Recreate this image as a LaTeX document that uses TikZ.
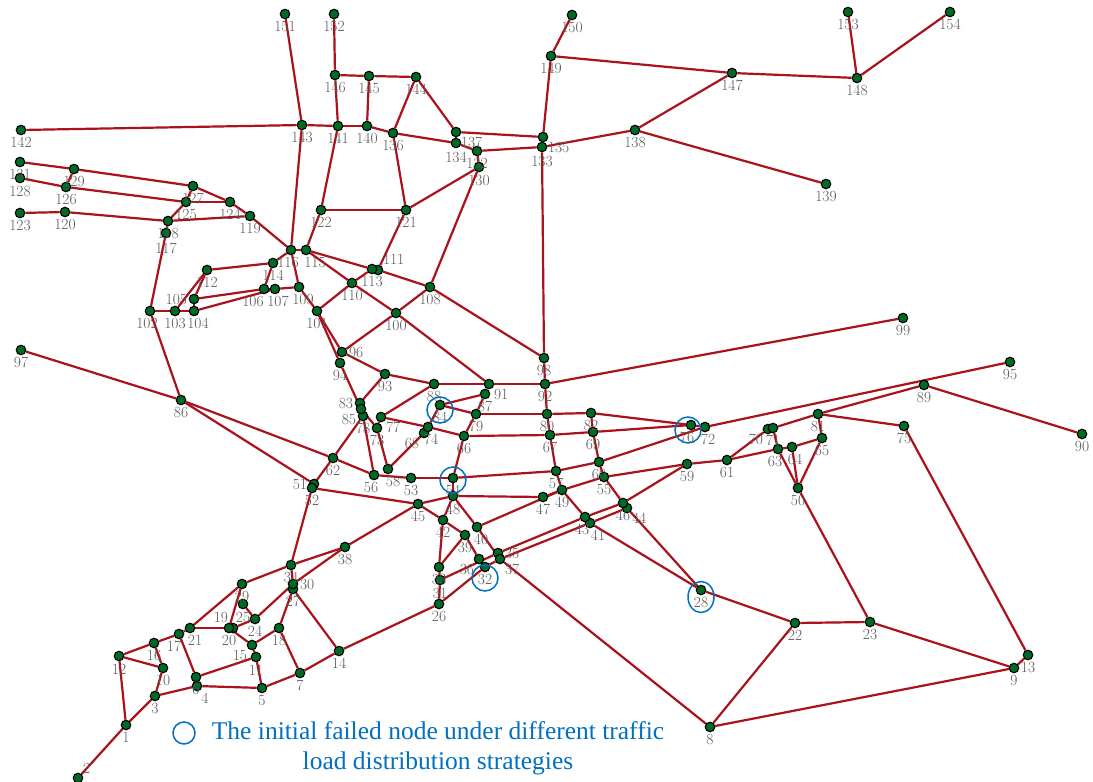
\documentclass[tikz,border=0pt]{standalone}
\usepackage{fontspec}
\newfontfamily\legendfont{Liberation Serif}
\usetikzlibrary{backgrounds,shapes.geometric}
\definecolor{edgered}{RGB}{170,18,28}
\definecolor{nodegreen}{RGB}{0,105,35}
\definecolor{labelgray}{RGB}{90,90,90}
\definecolor{ringblue}{RGB}{0,112,192}
% station with its number below
\newcommand\V[3]{\node[nd,label={[lbl]below:#1}] (v#1) at (#2,#3) {};}
% station with its number placed elsewhere
\newcommand\Vp[4]{\node[nd,label={[lbl]#4:#1}] (v#1) at (#2,#3) {};}
% station with its number below, nudged
\newcommand\Vs[4]{\node[nd,label={[lbl,#4]below:#1}] (v#1) at (#2,#3) {};}
\begin{document}
\begin{tikzpicture}[x=1pt,y=-1pt,label distance=1.5pt,
  nd/.style={circle,draw=black,fill=nodegreen,line width=1.1pt,minimum size=9.5pt,inner sep=0pt},
  lbl/.style={text=labelgray,font=\fontsize{15.5}{15.5}\selectfont,inner sep=0pt},
  edge/.style={draw=edgered,line width=2.2pt},
  ring/.style={circle,draw=ringblue,line width=1.5pt,minimum size=26pt,inner sep=0pt}]
\useasboundingbox (0,0) rectangle (1093,782);

% stations
\V{1}{126}{725}
\Vp{2}{78}{778}{above right}
\V{3}{155}{696}
\Vs{4}{197}{686}{xshift=8pt}
\V{5}{262}{688}
\V{6}{196}{677}
\V{7}{300}{673}
\V{8}{710}{727}
\V{9}{1014}{668}
\V{10}{163}{668}
\Vs{11}{256}{657}{yshift=-1pt}
\Vs{12}{119}{656}{yshift=-1pt}
\V{13}{1028}{655}
\V{14}{339}{651}
\Vp{15}{252}{645}{below left}
\V{16}{154}{643}
\Vs{17}{179}{634}{xshift=-5pt}
\V{18}{279}{628}
\Vp{19}{233}{628}{above left}
\V{20}{229}{628}
\Vs{21}{190}{628}{xshift=5pt}
\V{22}{795}{623}
\V{23}{870}{622}
\V{24}{255}{619}
\Vs{25}{243}{604}{yshift=-1pt}
\V{26}{439}{604}
\V{27}{293}{589}
\V{28}{701}{590}
\V{29}{242}{584}
\Vp{30}{293}{584}{right}
\Vs{31}{440}{580}{yshift=-1pt}
\V{32}{485}{567}
\V{33}{439}{567}
\V{34}{291}{565}
\Vp{35}{498}{553}{right}
\Vp{36}{479}{559}{below left}
\Vp{37}{500}{559}{below right}
\V{38}{345}{547}
\V{39}{465}{535}
\Vs{40}{477}{527}{xshift=4pt}
\Vs{41}{590}{523}{xshift=8pt}
\V{42}{443}{520}
\Vs{43}{585}{517}{xshift=-3pt}
\Vp{44}{627}{508}{below right}
\V{45}{418}{504}
\V{46}{623}{503}
\V{47}{543}{497}
\Vs{48}{453}{496}{yshift=-1pt}
\V{49}{562}{490}
\V{50}{798}{488}
\Vp{51}{314}{484}{left}
\V{52}{312}{488}
\V{53}{411}{478}
\V{54}{453}{478}
\V{55}{604}{477}
\Vs{56}{374}{475}{xshift=-3pt}
\V{57}{556}{471}
\Vs{58}{388}{469}{xshift=5pt}
\V{59}{687}{464}
\V{60}{599}{462}
\V{61}{727}{460}
\V{62}{333}{458}
\Vs{63}{778}{449}{xshift=-3pt}
\Vs{64}{792}{447}{xshift=3pt}
\V{65}{822}{438}
\V{66}{464}{436}
\V{67}{550}{435}
\Vp{68}{424}{433}{below left}
\V{69}{593}{432}
\Vp{70}{768}{429}{below left}
\V{71}{773}{428}
\Vs{72}{705}{427}{xshift=3pt}
\V{73}{377}{428}
\Vs{74}{428}{427}{xshift=3pt}
\V{75}{904}{426}
\Vs{76}{691}{425}{xshift=-4pt}
\Vp{77}{381}{417}{below right}
\V{78}{363}{416}
\V{79}{476}{414}
\V{80}{547}{414}
\V{81}{818}{414}
\V{82}{591}{413}
\Vp{83}{360}{403}{left}
\V{84}{440}{405}
\Vp{85}{361}{409}{below left}
\V{86}{181}{400}
\V{87}{485}{394}
\V{88}{434}{384}
\V{89}{924}{385}
\V{90}{1082}{434}
\Vp{91}{489}{384}{below right}
\V{92}{545}{384}
\V{93}{385}{374}
\V{94}{340}{363}
\Vp{96}{342}{352}{right}
\V{95}{1010}{362}
\V{97}{21}{350}
\V{98}{544}{358}
\V{99}{903}{318}
\V{100}{396}{313}
\V{101}{317}{311}
\Vs{102}{150}{311}{xshift=-3pt}
\V{103}{175}{311}
\Vs{104}{194}{311}{xshift=4pt}
\Vp{105}{194}{299}{left}
\Vs{106}{264}{289}{xshift=-11pt}
\Vs{107}{275}{289}{xshift=3pt}
\V{108}{430}{287}
\Vs{109}{299}{287}{xshift=4pt}
\V{110}{352}{283}
\Vp{111}{378}{270}{above right}
\V{112}{207}{270}
\V{113}{372}{269}
\V{114}{273}{263}
\Vs{115}{306}{250}{xshift=9pt}
\Vs{116}{291}{250}{xshift=-3pt}
\Vs{117}{166}{233}{yshift=-3pt}
\V{118}{168}{221}
\V{119}{250}{216}
\V{120}{65}{212}
\V{121}{406}{210}
\V{122}{321}{210}
\V{123}{20}{213}
\V{124}{230}{202}
\V{125}{186}{202}
\V{126}{66}{187}
\V{127}{193}{186}
\Vs{128}{20}{178}{yshift=-1pt}
\V{129}{74}{169}
\Vs{130}{479}{167}{yshift=-1pt}
\V{131}{20}{162}
\V{132}{477}{151}
\Vs{133}{542}{147}{yshift=-2.5pt}
\Vs{134}{456}{143}{yshift=-2.5pt}
\Vp{135}{543}{137}{below right}
\V{136}{393}{133}
\Vp{137}{456}{132}{below right}
\V{138}{635}{130}
\V{139}{826}{184}
\V{140}{367}{126}
\V{141}{338}{126}
\V{142}{21}{130}
\V{143}{302}{125}
\V{144}{416}{77}
\V{145}{369}{76}
\V{146}{335}{75}
\V{147}{732}{73}
\V{148}{857}{78}
\V{149}{551}{56}
\V{150}{572}{15}
\V{151}{285}{14}
\V{152}{334}{14}
\V{153}{848}{12}
\V{154}{950}{12}

% links, kept behind the stations
\begin{scope}[on background layer]
\fill[white] (0,0) rectangle (1093,782);
\foreach \a/\b in {151/143,152/146,146/141,146/145,145/144,145/140,144/136,144/137,
  142/143,143/141,141/140,140/136,136/134,137/134,137/135,134/132,132/133,132/130,
  135/133,135/149,149/150,149/147,147/148,148/153,148/154,147/138,133/138,138/139,
  143/116,141/122,136/121,130/121,130/108,133/98,
  131/129,129/127,128/126,126/125,129/126,123/120,120/118,127/125,125/124,127/124,
  124/119,119/116,125/118,118/119,118/117,117/102,
  122/121,122/115,121/111,116/115,116/114,116/109,115/113,115/110,113/111,111/108,
  110/113,110/100,110/101,109/101,107/109,106/107,114/106,112/114,112/105,112/103,
  105/106,104/107,102/103,103/104,104/105,102/86,86/97,
  101/96,101/94,100/108,100/96,100/91,108/98,96/93,94/85,93/88,93/83,88/91,91/92,
  92/98,92/99,92/80,88/77,84/87,87/91,84/79,87/79,79/66,66/54,79/80,80/82,80/67,
  82/69,82/76,66/67,67/69,69/76,76/72,72/95,67/57,69/60,
  77/74,74/66,84/74,74/68,68/58,83/85,85/78,78/56,73/58,77/73,85/73,78/62,
  62/51,62/56,86/62,86/51,51/52,52/45,52/34,56/53,53/54,54/57,57/60,60/72,54/48,
  48/45,48/47,47/49,57/49,49/55,55/59,59/61,60/55,55/46,46/44,44/28,49/43,43/41,
  41/28,46/59,35/43,43/46,37/41,41/44,
  45/42,48/42,42/33,33/31,31/26,48/40,40/37,37/8,42/39,39/36,36/32,40/49,31/35,
  26/32,32/37,39/33,
  38/45,38/34,38/30,34/29,34/30,30/27,30/24,27/18,27/14,29/21,29/20,25/24,24/19,
  21/19,19/20,21/17,17/16,16/12,12/10,16/10,12/1,10/3,3/1,1/2,3/4,4/6,4/5,5/7,
  7/14,14/26,17/6,6/11,20/15,15/18,15/11,11/5,18/7,
  22/28,22/23,22/8,23/50,23/9,8/9,9/13,13/75,61/70,61/63,63/64,64/65,65/81,81/71,
  70/71,71/63,63/50,64/50,65/50,81/75,81/89,89/90}
  \draw[edge] (v\a) -- (v\b);
\end{scope}

% stations that fail first
\node[ring] (f84) at (440,410) {};
\node[ring] (f54) at (453,480) {};
\node[ring] (f32) at (485,578) {};
\node[ring] (f76) at (688,430) {};
\node[ring,ellipse,minimum width=26pt,minimum height=31pt] (f28) at (701,597) {};

% key
\node[ring,minimum size=22pt] (keyring) at (184,733) {};
\node[text=ringblue,align=center,inner sep=0pt,
      font=\legendfont\fontsize{25.5}{30}\selectfont] (keytext) at (438,748)
  {The initial failed node under different traffic\\load distribution strategies};
\end{tikzpicture}
\end{document}
